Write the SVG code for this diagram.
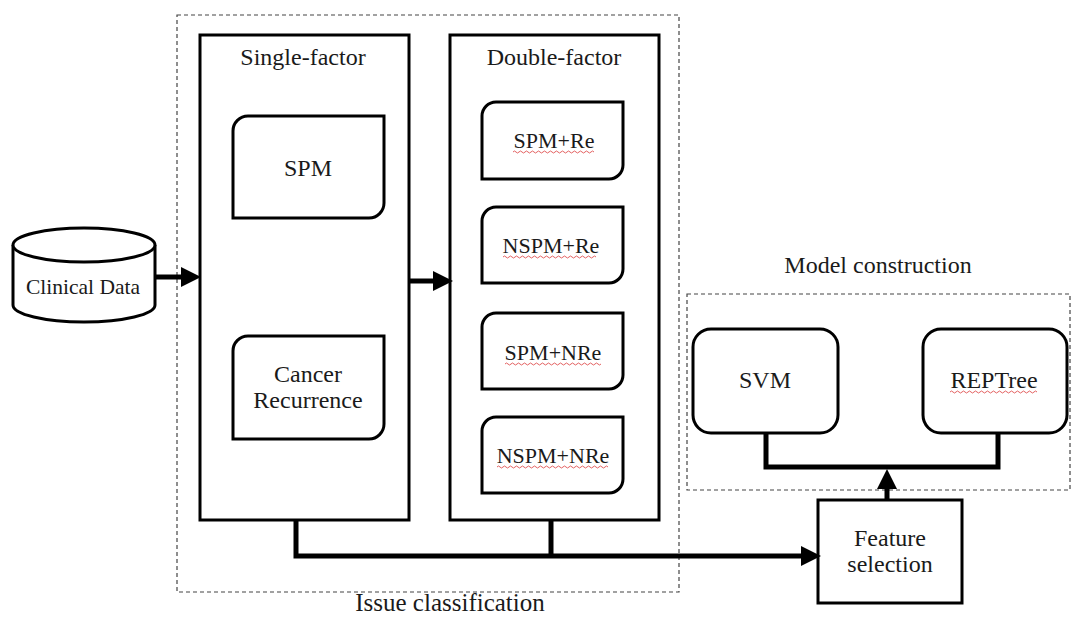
<svg xmlns="http://www.w3.org/2000/svg" width="1072" height="621" viewBox="0 0 1072 621">
<style>
text{font-family:"Liberation Serif","Times New Roman",serif;fill:#1a1a1a;text-anchor:middle}
.h{font-size:24px}
.m{font-size:24px}
.s{font-size:22px}
.box{fill:#fff;stroke:#000;stroke-width:3}
.dash{fill:none;stroke:#444;stroke-width:1.2;stroke-dasharray:4 3}
.con{fill:none;stroke:#000;stroke-width:5}
.sq{fill:none;stroke:#e05050;stroke-width:0.9}
</style>
<defs>
<marker id="ah" markerWidth="4" markerHeight="4" refX="1" refY="2" orient="auto" markerUnits="strokeWidth" viewBox="0 0 4 4">
<path d="M0,0 L4,2 L0,4 z" fill="#000"/>
</marker>
</defs>
<g id="issue-classification">
<rect class="dash" x="177" y="15" width="502" height="577"/>
<text class="h" x="450" y="611" style="font-size:25px">Issue classification</text>
</g>
<g id="model-construction">
<rect class="dash" x="687" y="294" width="383" height="196"/>
<text class="h" x="878" y="273">Model construction</text>
</g>
<g id="clinical-data">
<path class="box" d="M13,245 L13,305 A71,17 0 0 0 155,305 L155,245"/>
<ellipse class="box" cx="84" cy="245" rx="71" ry="17"/>
<text class="m" x="83" y="294" style="font-size:21.5px">Clinical Data</text>
</g>
<g id="single-factor">
<rect class="box" x="200" y="35" width="209" height="485"/>
<text class="h" x="303" y="65">Single-factor</text>
</g>
<g id="spm">
<path class="box" d="M248,116 L384,116 L384,203 A15,15 0 0 1 369,218 L233,218 L233,131 A15,15 0 0 1 248,116 z"/>
<text class="m" x="308" y="176">SPM</text>
</g>
<g id="cancer-recurrence">
<path class="box" d="M248,336 L384,336 L384,424 A15,15 0 0 1 369,439 L233,439 L233,351 A15,15 0 0 1 248,336 z"/>
<text class="m" x="308" y="382">Cancer</text>
<text class="m" x="308" y="408">Recurrence</text>
</g>
<g id="double-factor">
<rect class="box" x="450" y="35" width="209" height="485"/>
<text class="h" x="554" y="65">Double-factor</text>
</g>
<g id="spm-re">
<path class="box" d="M496,102 L623,102 L623,165 A14,14 0 0 1 609,179 L482,179 L482,116 A14,14 0 0 1 496,102 z"/>
<text class="s" x="554" y="148">SPM+Re</text>
<path class="sq" d="M513,152 q1.5,-2 3,0 t3,0 t3,0 t3,0 t3,0 t3,0 t3,0 t3,0 t3,0 t3,0 t3,0 t3,0 t3,0 t3,0 t3,0 t3,0 t3,0 t3,0 t3,0 t3,0 t3,0 t3,0 t3,0 t3,0 t3,0 t3,0 t3,0"/>
</g>
<g id="nspm-re">
<path class="box" d="M496,207 L623,207 L623,269 A14,14 0 0 1 609,283 L482,283 L482,221 A14,14 0 0 1 496,207 z"/>
<text class="s" x="551" y="253">NSPM+Re</text>
<path class="sq" d="M503,257 q1.5,-2 3,0 t3,0 t3,0 t3,0 t3,0 t3,0 t3,0 t3,0 t3,0 t3,0 t3,0 t3,0 t3,0 t3,0 t3,0 t3,0 t3,0 t3,0 t3,0 t3,0 t3,0 t3,0 t3,0 t3,0 t3,0 t3,0 t3,0 t3,0 t3,0 t3,0 t3,0"/>
</g>
<g id="spm-nre">
<path class="box" d="M496,313 L623,313 L623,375 A14,14 0 0 1 609,389 L482,389 L482,327 A14,14 0 0 1 496,313 z"/>
<text class="s" x="553" y="360">SPM+NRe</text>
<path class="sq" d="M505,364 q1.5,-2 3,0 t3,0 t3,0 t3,0 t3,0 t3,0 t3,0 t3,0 t3,0 t3,0 t3,0 t3,0 t3,0 t3,0 t3,0 t3,0 t3,0 t3,0 t3,0 t3,0 t3,0 t3,0 t3,0 t3,0 t3,0 t3,0 t3,0 t3,0 t3,0 t3,0 t3,0 t3,0"/>
</g>
<g id="nspm-nre">
<path class="box" d="M496,417 L623,417 L623,479 A14,14 0 0 1 609,493 L482,493 L482,431 A14,14 0 0 1 496,417 z"/>
<text class="s" x="553" y="463">NSPM+NRe</text>
<path class="sq" d="M497,467 q1.5,-2 3,0 t3,0 t3,0 t3,0 t3,0 t3,0 t3,0 t3,0 t3,0 t3,0 t3,0 t3,0 t3,0 t3,0 t3,0 t3,0 t3,0 t3,0 t3,0 t3,0 t3,0 t3,0 t3,0 t3,0 t3,0 t3,0 t3,0 t3,0 t3,0 t3,0 t3,0 t3,0 t3,0 t3,0 t3,0 t3,0 t3,0"/>
</g>
<g id="svm">
<rect class="box" x="693" y="329" width="145" height="104" rx="18"/>
<text class="m" x="765" y="388">SVM</text>
</g>
<g id="reptree">
<rect class="box" x="923" y="329" width="144" height="104" rx="18"/>
<text class="m" x="994" y="388">REPTree</text>
<path class="sq" d="M950,392 q1.5,-2 3,0 t3,0 t3,0 t3,0 t3,0 t3,0 t3,0 t3,0 t3,0 t3,0 t3,0 t3,0 t3,0 t3,0 t3,0 t3,0 t3,0 t3,0 t3,0 t3,0 t3,0 t3,0 t3,0 t3,0 t3,0 t3,0 t3,0 t3,0 t3,0"/>
</g>
<g id="feature-selection">
<rect class="box" x="818" y="500" width="144" height="103"/>
<text class="m" x="890" y="546">Feature</text>
<text class="m" x="890" y="572">selection</text>
</g>
<g id="connectors">
<line class="con" x1="155" y1="277" x2="186" y2="277" marker-end="url(#ah)"/>
<line class="con" x1="409" y1="281" x2="438" y2="281" marker-end="url(#ah)"/>
<polyline class="con" points="296,520 296,556 806,556" marker-end="url(#ah)"/>
<line class="con" x1="551" y1="520" x2="551" y2="556"/>
<line class="con" x1="887" y1="500" x2="887" y2="484" marker-end="url(#ah)"/>
<polyline class="con" points="766,433 766,467 998,467 998,433"/>
</g>
</svg>
